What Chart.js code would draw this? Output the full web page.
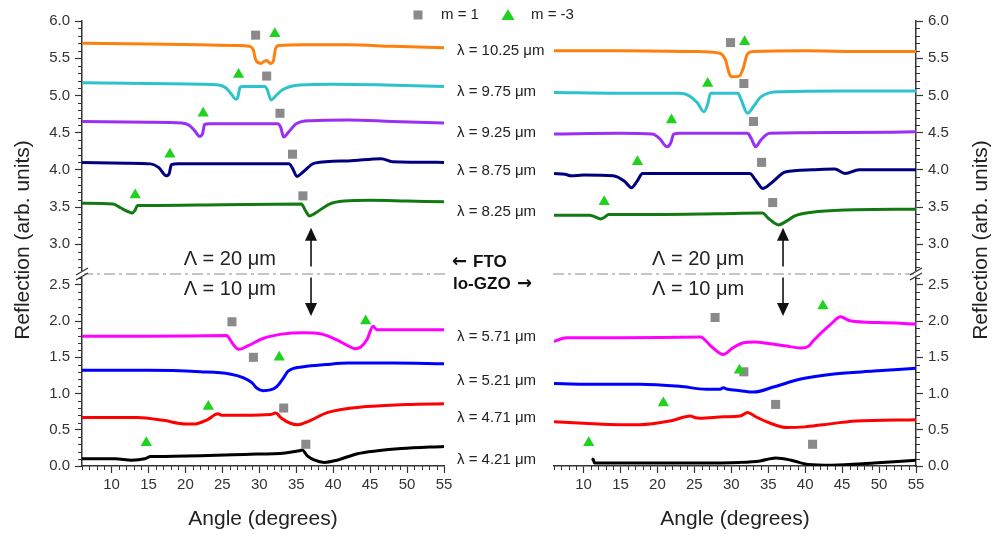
<!DOCTYPE html>
<html>
<head>
<meta charset="utf-8">
<script src="https://cdn.jsdelivr.net/npm/chart.js@4.4.1/dist/chart.umd.min.js"></script>
<style>
html, body { margin: 0; padding: 0; background: #fff; }
#wrap { position: relative; width: 993px; height: 535px; }
canvas { position: absolute; left: 0; top: 0; }
</style>
</head>
<body>
<div id="wrap">
  <canvas id="leftChart" width="993" height="535"></canvas>
  <canvas id="rightChart" width="993" height="535"></canvas>
</div>
<script>
// wavelengths (um) of each trace, top block (period 20 um) and bottom block (period 10 um)
const topWaves = ['10.25', '9.75', '9.25', '8.75', '8.25'];
const botWaves = ['5.71', '5.21', '4.71', '4.21'];
const topColors = ['#ff7f0e', '#2cc3cc', '#9b30f5', '#00007f', '#127a12'];
const botColors = ['#ff00ff', '#0000ff', '#ff0000', '#000000'];

// FTO (left panel), [angle, reflection]
const fto1025 = [[6,5.70],[15,5.69],[22,5.68],[27,5.67],[28.6,5.66],[29.2,5.61],[29.5,5.48],[30.2,5.43],[30.7,5.46],[31.0,5.47],[31.5,5.43],[31.9,5.46],[32.2,5.63],[32.7,5.67],[36,5.68],[42,5.68],[48,5.66],[55,5.64]];
const fto975 = [[6,5.17],[15,5.16],[22,5.15],[24.5,5.14],[25.5,5.10],[26.2,5.02],[26.8,4.95],[27.1,4.98],[27.4,5.11],[27.8,5.12],[30.8,5.12],[31.1,5.07],[31.6,4.94],[32.2,4.99],[33.2,5.08],[35.5,5.14],[40,5.15],[47,5.14],[55,5.12]];
const fto925 = [[6,4.65],[15,4.64],[19.5,4.63],[20.5,4.60],[21.3,4.52],[21.9,4.45],[22.3,4.48],[22.6,4.61],[23.2,4.62],[32.5,4.62],[32.9,4.57],[33.3,4.44],[33.9,4.50],[35.0,4.62],[37,4.66],[42,4.67],[48,4.65],[55,4.63]];
const fto875 = [[6,4.10],[12,4.09],[15.3,4.08],[16.4,4.03],[17.4,3.92],[17.8,3.95],[18.1,4.07],[19,4.08],[34.0,4.08],[34.5,4.02],[35.1,3.91],[35.8,3.96],[37.5,4.09],[42,4.12],[46.5,4.15],[48,4.11],[55,4.10]];
const fto825 = [[6,3.55],[10.2,3.54],[11.2,3.49],[12.2,3.44],[12.8,3.42],[13.2,3.46],[13.5,3.52],[15,3.52],[25,3.53],[35.7,3.54],[36.2,3.46],[36.8,3.38],[37.6,3.42],[39.5,3.54],[41.5,3.58],[45,3.59],[50,3.58],[55,3.57]];
const fto571 = [[6,1.79],[15,1.79],[25.6,1.80],[26.0,1.75],[26.6,1.66],[27.2,1.61],[28.5,1.66],[30.5,1.76],[33,1.82],[36,1.84],[38.5,1.82],[40.5,1.74],[42,1.66],[42.9,1.62],[43.7,1.64],[44.6,1.75],[45.4,1.93],[45.9,1.88],[48,1.88],[55,1.88]];
const fto521 = [[6,1.32],[15,1.32],[22,1.30],[26,1.27],[27.8,1.22],[29.0,1.15],[29.6,1.08],[30.5,1.04],[31.5,1.05],[32.4,1.10],[33.3,1.22],[33.9,1.31],[36,1.37],[39,1.40],[42,1.42],[48,1.42],[55,1.41]];
const fto471 = [[6,0.67],[13.5,0.67],[17,0.63],[20,0.58],[21.3,0.58],[23,0.64],[24.4,0.72],[25,0.70],[28,0.70],[31.5,0.71],[32.2,0.73],[33,0.66],[34.2,0.59],[35.2,0.57],[36.5,0.61],[39.3,0.74],[44.5,0.82],[50,0.85],[55,0.86]];
const fto421 = [[6,0.10],[10.5,0.10],[12.7,0.08],[14.5,0.10],[15.3,0.13],[16,0.13],[22,0.14],[28,0.16],[33.5,0.18],[35.4,0.21],[35.8,0.22],[36.5,0.14],[37.5,0.08],[38.8,0.05],[40.5,0.08],[43.3,0.17],[46,0.21],[49.2,0.24],[55,0.27]];

// lo-GZO (right panel)
const gzo1025 = [[6,5.60],[15,5.60],[25,5.59],[28.3,5.57],[29.2,5.48],[29.7,5.30],[30.1,5.25],[31.1,5.26],[31.6,5.36],[32.2,5.56],[33,5.59],[40,5.60],[48,5.59],[55,5.59]];
const gzo975 = [[6,5.04],[15,5.03],[23,5.03],[24.2,5.00],[25.4,4.90],[26.3,4.78],[26.8,4.88],[27.2,5.03],[27.6,5.03],[30.9,5.03],[31.3,4.95],[32.2,4.76],[33.0,4.85],[34.0,4.98],[36.7,5.05],[45,5.06],[55,5.06]];
const gzo925 = [[6,4.48],[15,4.49],[19.3,4.48],[20.3,4.42],[21.3,4.31],[21.8,4.36],[22.2,4.48],[23,4.49],[32.2,4.49],[32.7,4.42],[33.3,4.31],[34.0,4.40],[35.2,4.49],[45,4.50],[55,4.51]];
const gzo875 = [[6,3.95],[7.5,3.94],[8.3,3.92],[10,3.93],[14,3.92],[15.5,3.85],[16.5,3.76],[17.2,3.84],[18.0,3.95],[25,3.95],[32.5,3.95],[33.3,3.86],[34.3,3.75],[35.5,3.83],[37.3,3.97],[40.9,4.00],[44.0,4.01],[45.4,3.95],[47.3,4.00],[55,4.00]];
const gzo825 = [[6,3.39],[10.8,3.39],[11.5,3.37],[12.3,3.34],[12.8,3.36],[13.4,3.40],[20,3.40],[28,3.41],[34.2,3.42],[35.0,3.35],[36.4,3.26],[37.3,3.30],[38.6,3.38],[40.9,3.43],[45.4,3.46],[55,3.47]];
const gzo571 = [[6,1.72],[7.7,1.77],[15,1.77],[25.8,1.78],[27.3,1.65],[28.9,1.54],[30.2,1.63],[31.7,1.70],[33.1,1.71],[35,1.69],[37.2,1.66],[39.4,1.63],[40.4,1.65],[41.2,1.74],[43.4,1.95],[44.8,2.06],[45.3,2.04],[46.2,2.00],[50,1.98],[55,1.96]];
const gzo521 = [[6,1.14],[10,1.13],[17.6,1.13],[23,1.10],[26.6,1.06],[28.5,1.06],[28.9,1.08],[29.5,1.06],[31.2,1.04],[33.0,1.02],[35.7,1.09],[39.4,1.20],[43.9,1.27],[49.3,1.31],[55,1.35]];
const gzo471 = [[6,0.61],[10,0.59],[14.9,0.57],[17.6,0.57],[21.7,0.62],[24.5,0.69],[25.0,0.67],[25.8,0.66],[29,0.68],[31.2,0.69],[32.2,0.74],[33.3,0.68],[35.3,0.59],[37.5,0.53],[40,0.54],[42.4,0.57],[46.9,0.62],[55,0.64]];
const gzo421 = [[11.1,0.10],[11.3,0.09],[11.5,0.04],[15,0.04],[25,0.04],[31.2,0.05],[33.9,0.07],[36.0,0.11],[38.1,0.08],[40.4,0.02],[43.6,0.01],[49.3,0.04],[55,0.08]];

// predicted resonances: m = 1 (squares) and m = -3 (triangles)
const ftoSqTop = [[29.5,5.81],[31.0,5.26],[32.8,4.76],[34.5,4.21],[35.9,3.65]];
const ftoTriTop = [[32.1,5.83],[27.2,5.28],[22.4,4.76],[17.9,4.21],[13.2,3.66]];
const ftoSqBot = [[26.3,1.99],[29.2,1.50],[33.3,0.80],[36.3,0.30]];
const ftoTriBot = [[44.4,2.00],[32.7,1.50],[23.1,0.82],[14.7,0.32]];
const gzoSqTop = [[29.9,5.71],[31.7,5.16],[33.0,4.65],[34.1,4.10],[35.6,3.56]];
const gzoTriTop = [[31.8,5.72],[26.8,5.16],[21.9,4.67],[17.3,4.11],[12.8,3.57]];
const gzoSqBot = [[27.8,2.05],[31.7,1.30],[36.0,0.85],[41.0,0.30]];
const gzoTriBot = [[42.4,2.21],[31.1,1.32],[20.8,0.87],[10.7,0.32]];

const axisColor = '#333';
const fontFamily = '"Liberation Sans", Arial, sans-serif';
const sqColor = '#8a8a8a';
const triColor = '#1ed21e';

Chart.defaults.font.family = fontFamily;

const pts = a => a.map(p => ({ x: p[0], y: p[1] }));

function lineSet(arr, color, axis) {
    return { data: pts(arr), borderColor: color, borderWidth: 3, pointRadius: 0,
        cubicInterpolationMode: 'monotone', yAxisID: axis, fill: false };
}
function markerSet(arr, style, axis) {
    const tri = style === 'triangle';
    return { data: pts(arr), showLine: false, yAxisID: axis, pointStyle: style,
        pointRadius: tri ? 6.5 : 6.4, backgroundColor: tri ? triColor : sqColor,
        borderColor: tri ? triColor : sqColor, borderWidth: 0 };
}

function drawArrow(ctx, x, y1, y2) {
    const dir = y2 > y1 ? 1 : -1;
    ctx.beginPath();
    ctx.moveTo(x, y1); ctx.lineTo(x, y2 - dir * 10);
    ctx.stroke();
    ctx.beginPath();
    ctx.moveTo(x, y2); ctx.lineTo(x - 6, y2 - dir * 13); ctx.lineTo(x + 6, y2 - dir * 13);
    ctx.closePath(); ctx.fill();
}

const decor = {
    id: 'decor',
    afterDraw(chart) {
        const ctx = chart.ctx, area = chart.chartArea;
        const sx = chart.scales.x, yt = chart.scales.yTop, yb = chart.scales.yBot;
        const isRight = chart.canvas.id === 'rightChart';
        const ax = isRight ? area.right : area.left;
        const dirX = isRight ? 1 : -1;
        ctx.save();
        // minor ticks
        ctx.strokeStyle = axisColor; ctx.lineWidth = 1;
        ctx.beginPath();
        for (let a = 6; a <= 55; a++) {
            if (a % 5 === 0) continue;
            const px = Math.round(sx.getPixelForValue(a)) + 0.5;
            ctx.moveTo(px, area.bottom); ctx.lineTo(px, area.bottom + 4);
        }
        [yt, yb].forEach(s => {
            for (let k = Math.ceil(s.min * 10 + 0.01); k < s.max * 10 - 0.01; k++) {
                if (k % 5 === 0) continue;
                const py = Math.round(s.getPixelForValue(k / 10)) + 0.5;
                ctx.moveTo(ax, py); ctx.lineTo(ax + dirX * 4, py);
            }
        });
        ctx.stroke();

        // break line between the two blocks
        const by = yb.top;
        ctx.strokeStyle = '#c4c4c4'; ctx.lineWidth = 2;
        ctx.setLineDash([11, 4, 3, 4]);
        ctx.beginPath();
        ctx.moveTo(isRight ? area.left - 1 : area.left, by);
        ctx.lineTo(isRight ? area.right : area.right + 3, by);
        ctx.stroke();
        ctx.setLineDash([]);

        // axis break marks
        ctx.fillStyle = '#fff';
        ctx.fillRect(ax - 2, by - 3, 4, 6);
        ctx.strokeStyle = axisColor; ctx.lineWidth = 1.3;
        ctx.beginPath();
        ctx.moveTo(ax - 6, by + 1); ctx.lineTo(ax + 6, by - 6);
        ctx.moveTo(ax - 6, by + 6); ctx.lineTo(ax + 6, by - 1);
        ctx.stroke();

        // period labels and arrows
        ctx.fillStyle = '#222'; ctx.strokeStyle = '#111'; ctx.lineWidth = 1.6;
        ctx.font = '20px ' + fontFamily;
        ctx.textAlign = 'center'; ctx.textBaseline = 'middle';
        const lx = sx.getPixelForValue(isRight ? 25.5 : 26.0);
        ctx.fillText('\u039B = 20 \u03BCm', lx, yt.getPixelForValue(2.79));
        ctx.fillText('\u039B = 10 \u03BCm', lx, yb.getPixelForValue(2.43));
        const arX = sx.getPixelForValue(37.0);
        ctx.fillStyle = '#111';
        drawArrow(ctx, arX, yt.getPixelForValue(2.70), yt.getPixelForValue(3.22));
        drawArrow(ctx, arX, yb.getPixelForValue(2.60), yb.getPixelForValue(2.07));

        // axis titles
        ctx.fillStyle = '#222';
        ctx.font = '21px ' + fontFamily;
        ctx.fillText('Angle (degrees)', (area.left + area.right) / 2, 519);
        ctx.save();
        ctx.translate(isRight ? 981 : 23, 240);
        ctx.rotate(-Math.PI / 2);
        ctx.fillText('Reflection (arb. units)', 0, 0);
        ctx.restore();

        if (!isRight) {
            // legend
            ctx.fillStyle = sqColor;
            ctx.fillRect(413.5, 10.5, 9, 9);
            ctx.fillStyle = triColor;
            ctx.beginPath();
            ctx.moveTo(508, 9); ctx.lineTo(514.5, 20); ctx.lineTo(501.5, 20); ctx.closePath(); ctx.fill();
            ctx.fillStyle = '#222';
            ctx.font = '15px ' + fontFamily;
            ctx.textAlign = 'left';
            ctx.fillText('m = 1', 441, 15);
            ctx.fillText('m = -3', 531, 15);
            // wavelength labels
            const topY = [51, 92, 133, 171, 212];
            const botY = [337, 381, 418, 460];
            topWaves.forEach((w, i) => ctx.fillText('\u03BB = ' + w + ' \u03BCm', 457, topY[i]));
            botWaves.forEach((w, i) => ctx.fillText('\u03BB = ' + w + ' \u03BCm', 457, botY[i]));
            // material labels, arrows from DejaVu for a full-size glyph
            ctx.fillStyle = '#111';
            ctx.font = 'bold 18px "DejaVu Sans", sans-serif';
            ctx.fillText('\u2190', 452, 262);
            ctx.fillText('\u2192', 517, 284);
            ctx.font = 'bold 17px ' + fontFamily;
            ctx.fillText('FTO', 473, 262);
            ctx.fillText('lo-GZO', 453, 284);
        }
        ctx.restore();
    }
};

function yAxis(pos, min, max, weight, width) {
    return {
        type: 'linear', axis: 'y', position: pos, stack: 'refl', stackWeight: weight,
        min: min, max: max,
        ticks: { stepSize: 0.5, includeBounds: false, color: axisColor, padding: 5,
            font: { size: 15 }, callback: v => v.toFixed(1) },
        grid: { drawOnChartArea: false, tickLength: 7, color: axisColor, tickWidth: 1.2 },
        border: { color: axisColor, width: 1.5 },
        afterFit: s => { s.width = width; }
    };
}

function makeChart(id, lines, markers, isRight) {
    const datasets = [];
    markers.forEach(m => datasets.push(m));
    lines.forEach(l => datasets.push(l));
    const yPos = isRight ? 'right' : 'left';
    const yw = isRight ? 77 : 82;
    const bottomAxis = yAxis(yPos, 0, 2.65, 192, yw);
    const topAxis = yAxis(yPos, 2.6, 6.0, 253, yw);
    const scales = { x: {
        type: 'linear', min: 6, max: 55,
        ticks: { stepSize: 5, includeBounds: false, color: axisColor, padding: 3, font: { size: 15 } },
        grid: { drawOnChartArea: false, tickLength: 7, color: axisColor, tickWidth: 1.2 },
        border: { color: axisColor, width: 1.5 },
        afterFit: s => { s.height = 69; }
    } };
    if (isRight) { scales.yTop = topAxis; scales.yBot = bottomAxis; }
    else { scales.yBot = bottomAxis; scales.yTop = topAxis; }
    return new Chart(document.getElementById(id).getContext('2d'), {
        type: 'line',
        data: { datasets: datasets },
        options: {
            responsive: false, animation: false,
            layout: { padding: isRight ? { left: 554, right: 0, top: 21, bottom: 0 }
                                       : { left: 0, right: 549, top: 21, bottom: 0 } },
            plugins: { legend: { display: false }, tooltip: { enabled: false } },
            scales: scales
        },
        plugins: [decor]
    });
}

const ftoTop = [fto1025, fto975, fto925, fto875, fto825];
const ftoBot = [fto571, fto521, fto471, fto421];
const gzoTop = [gzo1025, gzo975, gzo925, gzo875, gzo825];
const gzoBot = [gzo571, gzo521, gzo471, gzo421];

makeChart('leftChart',
    ftoTop.map((a, i) => lineSet(a, topColors[i], 'yTop')).concat(ftoBot.map((a, i) => lineSet(a, botColors[i], 'yBot'))),
    [markerSet(ftoTriTop, 'triangle', 'yTop'), markerSet(ftoTriBot, 'triangle', 'yBot'),
     markerSet(ftoSqTop, 'rect', 'yTop'), markerSet(ftoSqBot, 'rect', 'yBot')], false);

makeChart('rightChart',
    gzoTop.map((a, i) => lineSet(a, topColors[i], 'yTop')).concat(gzoBot.map((a, i) => lineSet(a, botColors[i], 'yBot'))),
    [markerSet(gzoTriTop, 'triangle', 'yTop'), markerSet(gzoTriBot, 'triangle', 'yBot'),
     markerSet(gzoSqTop, 'rect', 'yTop'), markerSet(gzoSqBot, 'rect', 'yBot')], true);
</script>
</body>
</html>
